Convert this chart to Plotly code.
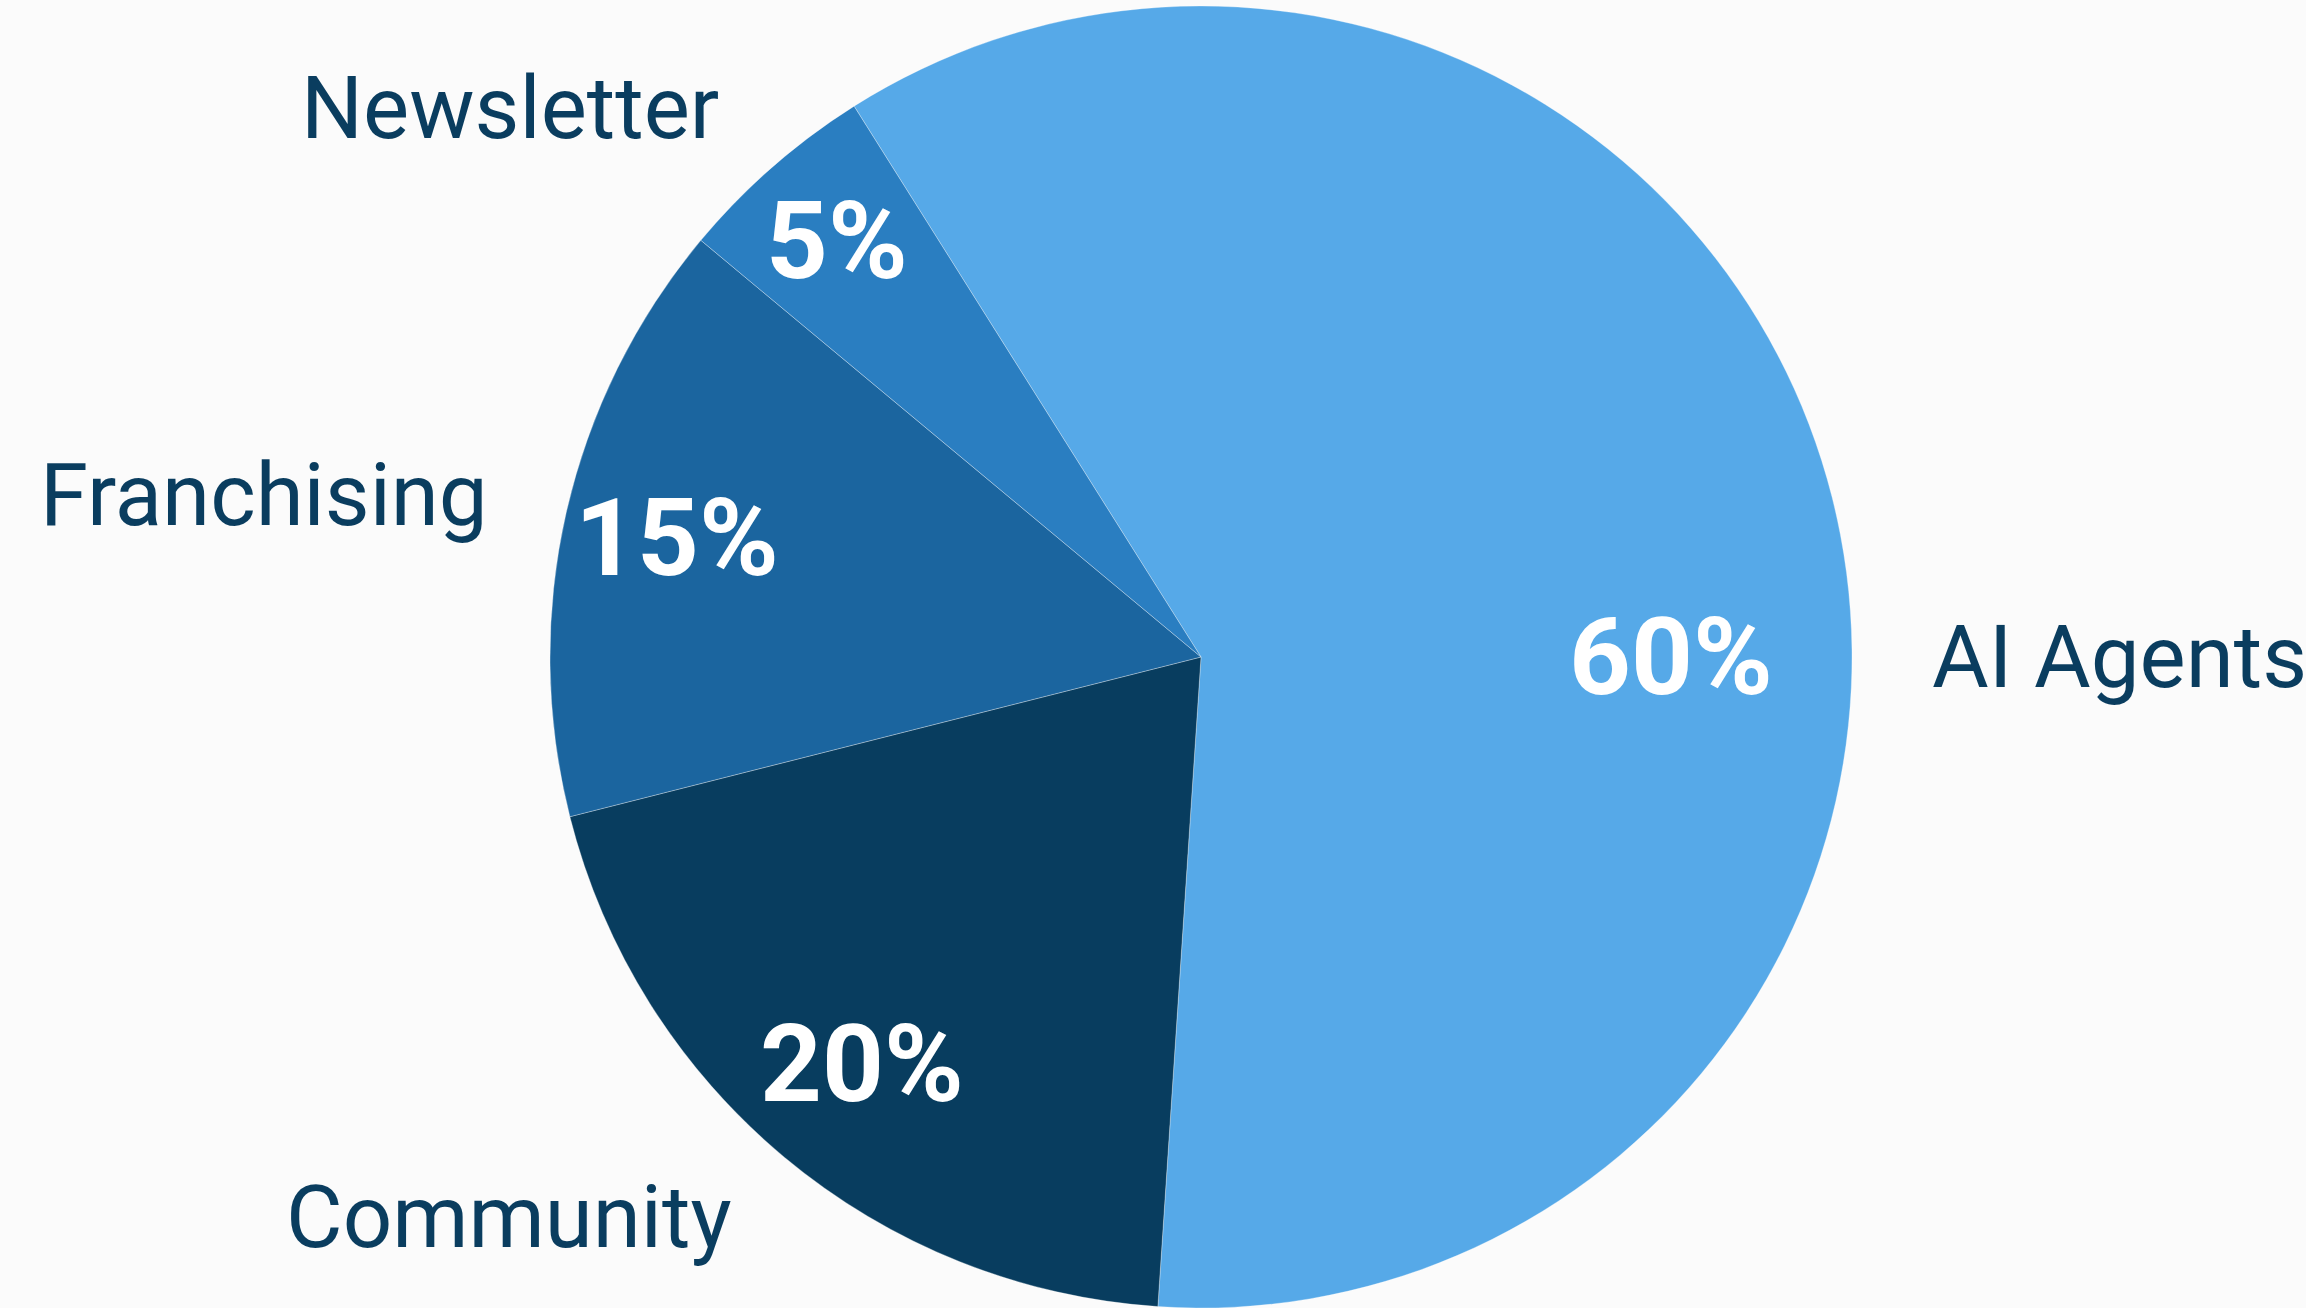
import math
import plotly.graph_objects as go

# ---- data ----
categories = ["AI Agents", "Community", "Franchising", "Newsletter"]
shares = [60, 20, 15, 5]
slice_colors = ["#56a9e8", "#083d5f", "#1b659f", "#2a7ec1"]

# ---- layout constants ----
W, H = 2306, 1308
ML, MR, MT, MB = 96, 0, 6, 0
START_ANGLE = -32.2          # degrees, clockwise from 12 o'clock
PCT_RADIUS_MAX = 0.86        # radial fraction for percentage text of a thin slice
PCT_RADIUS_SHRINK = 0.23     # wider slices pull their percentage inward
LABEL_RADIUS = 1.12          # fraction of radius for category labels
LABEL_COLOR = "#0a3d5f"
BG = "#fbfbfb"

fig = go.Figure(
    go.Pie(
        labels=categories,
        values=shares,
        sort=False,
        direction="clockwise",
        rotation=START_ANGLE,
        marker=dict(colors=slice_colors, line=dict(color="rgba(255,255,255,0.3)", width=1)),
        textinfo="none",
        hoverinfo="label+percent",
        showlegend=False,
    )
)

# geometry of the pie inside the plotting area (same rule plotly uses)
pw = W - ML - MR
ph = H - MT - MB
radius = min(pw, ph) / 2
cx = ML + pw / 2
cy = MT + ph / 2


def to_paper(px, py):
    return (px - ML) / pw, 1 - (py - MT) / ph


total = sum(shares)
annotations = []
cum = 0
for name, v in zip(categories, shares):
    frac = v / total
    a0 = START_ANGLE + cum / total * 360
    a1 = a0 + frac * 360
    cum += v
    mid = (a0 + a1) / 2
    if a1 - a0 > 180:
        # a dominant slice: put its texts on the horizontal axis it spans
        for h in (90, 270, 450, -90):
            if a0 <= h <= a1:
                mid = h
                break
    t = math.radians(mid)
    sx, sy = math.sin(t), -math.cos(t)

    k = PCT_RADIUS_MAX - PCT_RADIUS_SHRINK * frac
    px, py = cx + sx * radius * k, cy + sy * radius * k
    xp, yp = to_paper(px, py)
    annotations.append(dict(
        x=xp, y=yp, xref="paper", yref="paper", showarrow=False,
        text=f"{round(frac * 100)}%",
        xanchor="center", yanchor="middle",
        font=dict(family="Roboto", size=108, color="white", weight="bold"),
    ))

    lx, ly = cx + sx * radius * LABEL_RADIUS, cy + sy * radius * LABEL_RADIUS
    xp, yp = to_paper(lx, ly)
    annotations.append(dict(
        x=xp, y=yp, xref="paper", yref="paper", showarrow=False,
        text=name,
        xanchor="left" if sx > 0 else "right", yanchor="middle",
        font=dict(family="Roboto", size=87, color=LABEL_COLOR),
    ))

fig.update_layout(
    width=W, height=H,
    margin=dict(l=ML, r=MR, t=MT, b=MB),
    paper_bgcolor=BG, plot_bgcolor=BG,
    annotations=annotations,
    showlegend=False,
)

fig.write_html(
    "out.html",
    config={"displayModeBar": False},
    post_script=(
        "document.body.style.margin='0';"
        "document.body.style.background='" + BG + "';"
        "document.documentElement.style.overflow='hidden';"
    ),
)
